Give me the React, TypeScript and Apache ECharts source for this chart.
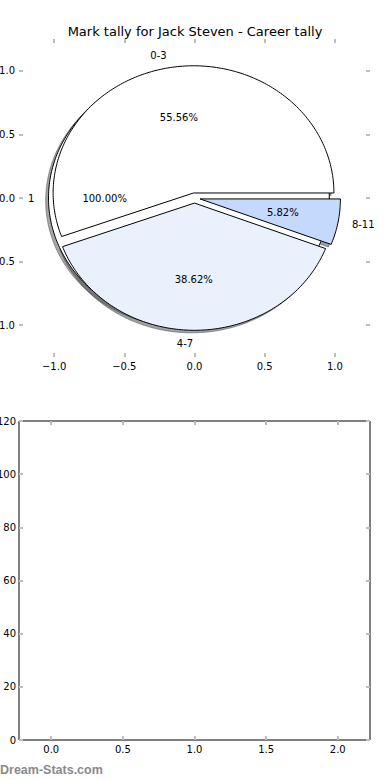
import React, { useEffect, useRef } from 'react';
import * as echarts from 'echarts';

const TITLE = 'Mark tally for Jack Steven - Career tally';
const WATERMARK = 'Dream-Stats.com';

// Background pie (single slice)
const outerLabels = ['1'];
const outerValues = [1];
const outerColors = ['#ffffff'];

// Foreground pie
const innerLabels = ['0-3', '4-7', '8-11'];
const innerValues = [55.56, 38.62, 5.82];
const innerColors = ['#ffffff', '#eaf1fd', '#c5d9fd'];

const explodeBy = 0.04;
const pieTicks = [-1, -0.5, 0, 0.5, 1];
const barXTicks = [0, 0.5, 1, 1.5, 2];
const barYMin = 0;
const barYMax = 120;
const barYStep = 20;

const FONT = '"DejaVu Sans", "Liberation Sans", sans-serif';
const TICK_COLOR = '#bdbdbd';

type Wedge = { t1: number; t2: number; ox: number; oy: number; color: string; label: string; pct: string };

function buildWedges(labels: string[], values: number[], colors: string[]): Wedge[] {
  const total = values.reduce((a, b) => a + b, 0);
  let acc = 0;
  return values.map((v, i) => {
    const t1 = (acc / total) * 360;
    acc += v;
    const t2 = (acc / total) * 360;
    const mid = (((t1 + t2) / 2) * Math.PI) / 180;
    return {
      t1,
      t2,
      ox: explodeBy * Math.cos(mid),
      oy: explodeBy * Math.sin(mid),
      color: colors[i],
      label: labels[i],
      pct: ((v / total) * 100).toFixed(2) + '%',
    };
  });
}

const wedges: Wedge[] = [
  ...buildWedges(outerLabels, outerValues, outerColors),
  ...buildWedges(innerLabels, innerValues, innerColors),
];

function shadowColor(hex: string): string {
  const h = hex.replace('#', '');
  const r = parseInt(h.slice(0, 2), 16);
  const g = parseInt(h.slice(2, 4), 16);
  const b = parseInt(h.slice(4, 6), 16);
  return `rgba(${Math.round(r * 0.3)},${Math.round(g * 0.3)},${Math.round(b * 0.3)},0.5)`;
}

function wedgePoints(api: any, t1: number, t2: number, cx: number, cy: number) {
  const pts: number[][] = [];
  const full = t2 - t1 >= 359.999;
  if (!full) pts.push(api.coord([cx, cy]));
  const n = Math.max(12, Math.ceil(t2 - t1));
  for (let k = 0; k <= n; k++) {
    const t = ((t1 + ((t2 - t1) * k) / n) * Math.PI) / 180;
    pts.push(api.coord([cx + Math.cos(t), cy + Math.sin(t)]));
  }
  return pts;
}

const wedgeData = wedges.map((w) => [w.t1, w.t2, w.ox, w.oy]);

const fmtMinus = (v: number) => (v < 0 ? '\u2212' + Math.abs(v).toFixed(1) : v.toFixed(1));

export default function App() {
  const ref = useRef<HTMLDivElement>(null);

  useEffect(() => {
    if (!ref.current) return;
    const chart = echarts.init(ref.current, undefined, { renderer: 'svg' });

    const tickStyle = { color: TICK_COLOR, width: 2 };
    const labelStyle = { color: '#000', fontSize: 10, fontFamily: FONT, margin: 4 };
    const noLine = { show: false, onZero: false };

    const option: any = {
      animation: false,
      backgroundColor: '#fff',
      title: {
        text: TITLE,
        left: 'center',
        top: 20,
        textStyle: { fontFamily: FONT, fontSize: 13, fontWeight: 'normal', color: '#000' },
      },
      grid: [
        { left: 19, top: 39, width: 351, height: 318, show: false, containLabel: false, outerBoundsMode: 'none' },
        { left: 19, top: 421, width: 351, height: 319, show: true, borderColor: '#000', borderWidth: 1, backgroundColor: 'transparent', containLabel: false, outerBoundsMode: 'none' },
      ],
      xAxis: [
        {
          gridIndex: 0, type: 'value', position: 'bottom', min: -1.25, max: 1.25,
          axisLine: noLine, splitLine: { show: false },
          axisTick: { show: true, inside: true, length: 4, lineStyle: tickStyle, customValues: pieTicks },
          axisLabel: { ...labelStyle, customValues: pieTicks, formatter: (v: number) => fmtMinus(v) },
        },
        {
          gridIndex: 0, type: 'value', position: 'top', min: -1.25, max: 1.25,
          axisLine: noLine, splitLine: { show: false },
          axisTick: { show: true, inside: true, length: 4, lineStyle: tickStyle, customValues: pieTicks },
          axisLabel: { show: false },
        },
        {
          gridIndex: 1, type: 'value', position: 'bottom', min: -0.225, max: 2.225,
          axisLine: noLine, splitLine: { show: false },
          axisTick: { show: true, inside: true, length: 4, lineStyle: tickStyle, customValues: barXTicks },
          axisLabel: { ...labelStyle, customValues: barXTicks, formatter: (v: number) => fmtMinus(v) },
        },
        {
          gridIndex: 1, type: 'value', position: 'top', min: -0.225, max: 2.225,
          axisLine: noLine, splitLine: { show: false },
          axisTick: { show: true, inside: true, length: 4, lineStyle: tickStyle, customValues: barXTicks },
          axisLabel: { show: false },
        },
      ],
      yAxis: [
        {
          gridIndex: 0, type: 'value', position: 'left', min: -1.25, max: 1.25,
          axisLine: noLine, splitLine: { show: false },
          axisTick: { show: true, inside: true, length: 4, lineStyle: tickStyle, customValues: pieTicks },
          axisLabel: { ...labelStyle, customValues: pieTicks, formatter: (v: number) => fmtMinus(v) },
        },
        {
          gridIndex: 0, type: 'value', position: 'right', min: -1.25, max: 1.25,
          axisLine: noLine, splitLine: { show: false },
          axisTick: { show: true, inside: true, length: 4, lineStyle: tickStyle, customValues: pieTicks },
          axisLabel: { show: false },
        },
        {
          gridIndex: 1, type: 'value', position: 'left', min: barYMin, max: barYMax, interval: barYStep,
          axisLine: noLine, splitLine: { show: false },
          axisTick: { show: true, inside: true, length: 4, lineStyle: tickStyle },
          axisLabel: { ...labelStyle, margin: 3 },
        },
        {
          gridIndex: 1, type: 'value', position: 'right', min: barYMin, max: barYMax, interval: barYStep,
          axisLine: noLine, splitLine: { show: false },
          axisTick: { show: true, inside: true, length: 4, lineStyle: tickStyle },
          axisLabel: { show: false },
        },
      ],
      series: [
        {
          type: 'custom', name: 'shadows', xAxisIndex: 0, yAxisIndex: 0, clip: false, silent: true, z: 1,
          data: wedgeData,
          renderItem: (params: any, api: any) => {
            const w = wedges[params.dataIndex];
            const c = shadowColor(w.color);
            return {
              type: 'polygon',
              shape: { points: wedgePoints(api, api.value(0), api.value(1), api.value(2) - 0.02, api.value(3) - 0.02) },
              style: { fill: c, stroke: c, lineWidth: 1 },
            };
          },
        },
        {
          type: 'custom', name: 'wedges', xAxisIndex: 0, yAxisIndex: 0, clip: false, silent: true, z: 2,
          data: wedgeData,
          renderItem: (params: any, api: any) => {
            const w = wedges[params.dataIndex];
            return {
              type: 'polygon',
              shape: { points: wedgePoints(api, api.value(0), api.value(1), api.value(2), api.value(3)) },
              style: { fill: w.color, stroke: '#000', lineWidth: 1, lineJoin: 'miter' },
            };
          },
        },
        {
          type: 'custom', name: 'labels', xAxisIndex: 0, yAxisIndex: 0, clip: false, silent: true, z: 3,
          data: wedgeData,
          renderItem: (params: any, api: any) => {
            const w = wedges[params.dataIndex];
            const mid = (((api.value(0) + api.value(1)) / 2) * Math.PI) / 180;
            const ox = api.value(2);
            const oy = api.value(3);
            const lx = ox + 1.1 * Math.cos(mid);
            const ly = oy + 1.1 * Math.sin(mid);
            const lp = api.coord([lx, ly]);
            const pp = api.coord([ox + 0.6 * Math.cos(mid), oy + 0.6 * Math.sin(mid)]);
            return {
              type: 'group',
              children: [
                {
                  type: 'text',
                  x: lp[0], y: lp[1],
                  style: { text: w.label, fill: '#000', fontSize: 10, fontFamily: FONT, align: lx > 0 ? 'left' : 'right', verticalAlign: 'middle' },
                },
                {
                  type: 'text',
                  x: pp[0], y: pp[1],
                  style: { text: w.pct, fill: '#000', fontSize: 10, fontFamily: FONT, align: 'center', verticalAlign: 'middle' },
                },
              ],
            };
          },
        },
      ],
      graphic: [
        {
          type: 'text',
          left: 0,
          top: 763,
          style: { text: WATERMARK, fill: '#8a8a8a', fontSize: 12.5, fontWeight: 'bold', fontFamily: '"Liberation Sans", Arial, sans-serif' },
        },
      ],
    };

    chart.setOption(option);
    return () => chart.dispose();
  }, []);

  return <div ref={ref} style={{ position: 'absolute', left: 0, top: 0, width: 390, height: 780 }} />;
}
